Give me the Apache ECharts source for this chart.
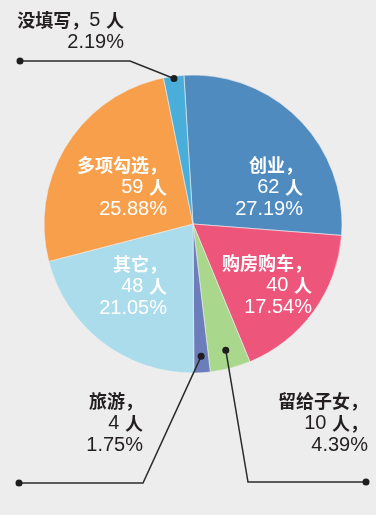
<!DOCTYPE html>
<html>
<head>
<meta charset="utf-8">
<script src="https://cdn.jsdelivr.net/npm/echarts@6/dist/echarts.min.js"></script>
<style>
html, body { margin: 0; padding: 0; background: #ededed; }
#mychart { width: 376px; height: 515px; }
</style>
</head>
<body>
<div id="mychart"></div>
<script>
// data
const names = ['创业', '购房购车', '留给子女', '旅游', '其它', '多项勾选', '没填写'];
const counts = [62, 40, 10, 4, 48, 59, 5];
const percents = ['27.19', '17.54', '4.39', '1.75', '21.05', '25.88', '2.19'];

const colors = ['#4f8bbf', '#ee557b', '#a9d78b', '#6b7dba', '#abdcec', '#f79f4b', '#4aaedb'];

// pie geometry
const center = [193, 224];
const radius = 149;
const startAngle = 93.5;

// label anchor (right edge, middle) per slice
const labelPos = {
    '创业': [303, 187, '#fff'],
    '购房购车': [312, 285, '#fff'],
    '多项勾选': [167, 187, '#fff'],
    '其它': [167, 286, '#fff'],
    '旅游': [143, 423, '#231f20'],
    '留给子女': [368, 423, '#231f20'],
    '没填写': [124, 31, '#231f20']
};

function labelText(i) {
    let n = names[i], c = counts[i], p = percents[i];
    if (n == '没填写') return '{c|' + n + '，}{n|' + c + ' }{c|人}\n{n|' + p + '%}';
    let comma = n == '留给子女' ? '{c|，}' : '';
    return '{c|' + n + '，}\n{n|' + c + ' }{c|人}' + comma + '\n{n|' + p + '%}';
}

// point inside slice i at a fraction of the radius, along its middle angle
function slicePoint(i, frac) {
    let total = counts.reduce((a, b) => a + b, 0);
    let before = 0;
    for (let k = 0; k < i; k++) before += counts[k];
    let deg = (90 - startAngle) + (before + counts[i] / 2) / total * 360;
    let rad = deg * Math.PI / 180;
    return [center[0] + Math.sin(rad) * radius * frac, center[1] - Math.cos(rad) * radius * frac];
}

const leaders = [
    { from: slicePoint(6, 0.985), mid: [130, 61], to: [20, 61] },
    { from: slicePoint(3, 0.89), mid: [143, 483], to: [19, 483] },
    { from: slicePoint(2, 0.875), mid: [248, 482], to: [366, 482] }
];

let graphics = [];
leaders.forEach(l => {
    graphics.push({
        type: 'polyline', z: 100,
        shape: { points: [l.from, l.mid, l.to] },
        style: { stroke: '#2a2a2a', lineWidth: 1.5, fill: null }
    });
    [l.from, l.to].forEach(pt => {
        graphics.push({
            type: 'circle', z: 101,
            shape: { cx: pt[0], cy: pt[1], r: 3.5 },
            style: { fill: '#1e1e1e' }
        });
    });
});

let myChart = echarts.init(document.getElementById('mychart'));
myChart.setOption({
    backgroundColor: '#ededed',
    animation: false,
    graphic: graphics,
    series: [{
        type: 'pie',
        center: center,
        radius: radius,
        startAngle: startAngle,
        clockwise: true,
        itemStyle: { borderColor: '#eeeeee', borderWidth: 0.6 },
        label: {
            show: true,
            position: 'inside',
            lineHeight: 22,
            formatter: p => labelText(p.dataIndex),
            rich: {
                c: { fontSize: 18, fontWeight: 'bold', lineHeight: 22, fontFamily: 'Noto Sans CJK SC' },
                n: { fontSize: 20, lineHeight: 22, fontFamily: 'Liberation Sans' }
            }
        },
        labelLine: { show: false },
        labelLayout: function (params) {
            let p = labelPos[names[params.dataIndex]];
            return { x: p[0], y: p[1], align: 'right', verticalAlign: 'middle' };
        },
        data: names.map((n, i) => ({
            name: n,
            value: counts[i],
            itemStyle: { color: colors[i] },
            label: { color: labelPos[n][2] }
        }))
    }]
});
</script>
</body>
</html>
